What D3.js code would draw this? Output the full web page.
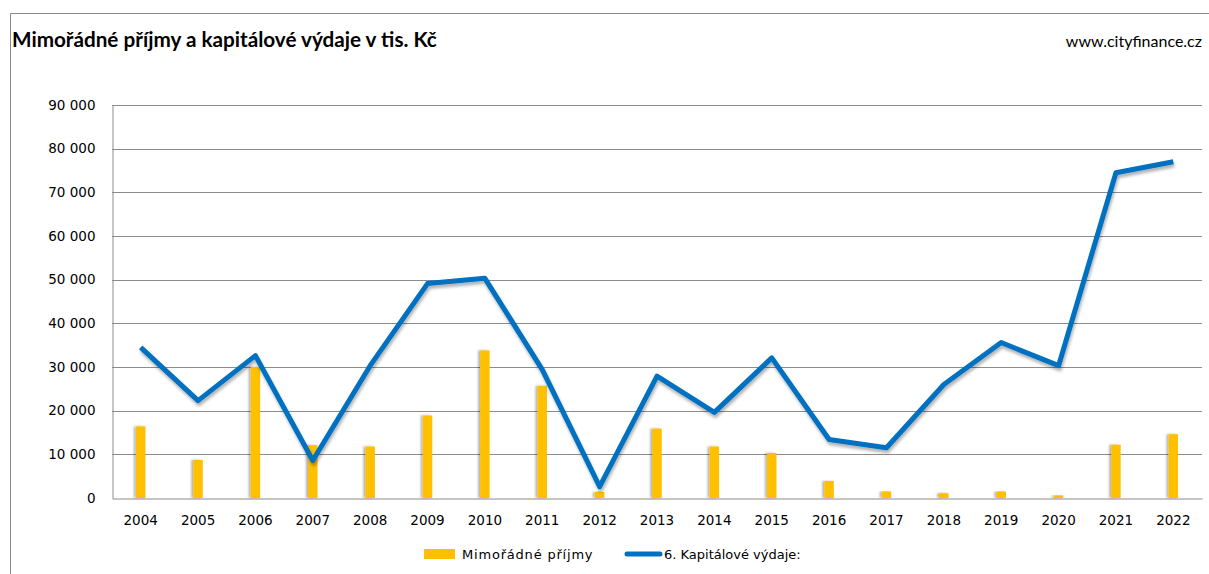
<!DOCTYPE html>
<html>
<head>
<meta charset="utf-8">
<title>Mimořádné příjmy a kapitálové výdaje</title>
<script src="https://cdn.jsdelivr.net/npm/d3@7"></script>
<style>
    body { margin: 0; background: #fff; }
    svg { display: block; }
</style>
</head>
<body>
<svg id="lienzo"></svg>
<script>
    // data (tis. Kč)
    const years = ["2004","2005","2006","2007","2008","2009","2010","2011","2012","2013",
                   "2014","2015","2016","2017","2018","2019","2020","2021","2022"];
    const mimoradnePrijmy = [16400, 8700, 30000, 12100, 11800, 18900, 33800, 25700, 1400, 15900,
                             11800, 10300, 3900, 1500, 1100, 1500, 600, 12200, 14600];
    const kapitaloveVydaje = [34500, 22300, 32600, 8600, 30300, 49100, 50300, 29400, 2600, 27900,
                              19600, 32100, 13400, 11500, 26000, 35600, 30300, 74500, 77000];
    const yTicks = [0, 10000, 20000, 30000, 40000, 50000, 60000, 70000, 80000, 90000];

    const width = 1209;
    const height = 574;
    const plotLeft = 112, plotRight = 1202, plotTop = 105, plotBottom = 498;

    const svg = d3.select("#lienzo")
        .attr("width", width)
        .attr("height", height);

    const defs = svg.append("defs");
    const lineShadow = defs.append("filter").attr("id", "lineShadow")
        .attr("x", "-5%").attr("y", "-10%").attr("width", "110%").attr("height", "130%");
    lineShadow.append("feDropShadow")
        .attr("dx", 1).attr("dy", 3).attr("stdDeviation", 1.6)
        .attr("flood-color", "#000").attr("flood-opacity", 0.3);
    const barShadow = defs.append("filter").attr("id", "barShadow")
        .attr("x", "-80%").attr("y", "-5%").attr("width", "200%").attr("height", "110%");
    barShadow.append("feDropShadow")
        .attr("dx", -2).attr("dy", 0).attr("stdDeviation", 1.3)
        .attr("flood-color", "#000").attr("flood-opacity", 0.3);

    // outer frame (left and top edges visible)
    svg.append("path")
        .attr("d", "M10.5," + height + "V13.5H" + width)
        .attr("fill", "none")
        .attr("stroke", "#8a8a8a")
        .attr("stroke-width", 1);

    svg.append("text")
        .attr("x", 12).attr("y", 47)
        .attr("font-family", "Lato, 'Open Sans', sans-serif")
        .attr("font-weight", "bold")
        .attr("font-size", 20.7)
        .attr("fill", "#000")
        .text("Mimořádné příjmy a kapitálové výdaje v tis. Kč");

    svg.append("text")
        .attr("x", 1202).attr("y", 47)
        .attr("text-anchor", "end")
        .attr("font-family", "Lato, 'Open Sans', sans-serif")
        .attr("font-size", 16)
        .attr("fill", "#000")
        .text("www.cityfinance.cz");

    const xScale = d3.scaleBand()
        .domain(years)
        .range([plotLeft, plotRight]);

    const yScale = d3.scaleLinear()
        .domain([0, 90000])
        .range([plotBottom, plotTop]);

    const fmt = v => d3.format(",")(v).replace(/,/g, " ");

    // gridlines
    svg.append("g")
        .selectAll("line")
        .data(yTicks.slice(1))
        .enter()
        .append("line")
        .attr("x1", plotLeft).attr("x2", plotRight)
        .attr("y1", d => Math.round(yScale(d)) + 0.5)
        .attr("y2", d => Math.round(yScale(d)) + 0.5)
        .attr("stroke", "#8c8c8c");

    // y axis
    const yAxis = svg.append("g")
        .attr("transform", "translate(" + (plotLeft + 0.5) + ",0)")
        .call(d3.axisLeft(yScale).tickValues(yTicks).tickSize(0).tickPadding(17).tickFormat(fmt));
    yAxis.select(".domain").attr("stroke", "#8c8c8c");
    yAxis.selectAll("text")
        .attr("font-family", "'DejaVu Sans', Verdana, sans-serif")
        .attr("font-size", 13.5)
        .attr("fill", "#000");

    // bars
    const barW = 9.5;
    svg.append("g")
        .selectAll("rect")
        .data(mimoradnePrijmy)
        .enter()
        .append("rect")
        .attr("x", (d, i) => xScale(years[i]) + xScale.bandwidth() / 2 - barW / 2)
        .attr("y", d => yScale(d))
        .attr("width", barW)
        .attr("height", d => yScale(0) - yScale(d))
        .attr("fill", "#FFC000")
        .attr("filter", "url(#barShadow)");

    // x axis
    const xAxis = svg.append("g")
        .attr("transform", "translate(0," + (plotBottom + 0.5) + ")")
        .call(d3.axisBottom(xScale).tickSize(0).tickPadding(17));
    xAxis.select(".domain").attr("stroke", "#8c8c8c");
    xAxis.selectAll("text")
        .attr("font-family", "'DejaVu Sans', Verdana, sans-serif")
        .attr("font-size", 13.5)
        .attr("fill", "#000");

    // line
    const line = d3.line()
        .x((d, i) => xScale(years[i]) + xScale.bandwidth() / 2)
        .y(d => yScale(d));

    svg.append("path")
        .datum(kapitaloveVydaje)
        .attr("d", line)
        .attr("fill", "none")
        .attr("stroke", "#0070C0")
        .attr("stroke-width", 5)
        .attr("stroke-linejoin", "round")
        .attr("filter", "url(#lineShadow)");

    // legend
    const legend = svg.append("g")
        .attr("font-family", "'DejaVu Sans', Verdana, sans-serif")
        .attr("font-size", 13)
        .attr("fill", "#000");

    legend.append("rect")
        .attr("x", 424).attr("y", 549)
        .attr("width", 31).attr("height", 10)
        .attr("fill", "#FFC000");
    legend.append("text")
        .attr("x", 462).attr("y", 558.5)
        .attr("letter-spacing", 0.8)
        .text("Mimořádné příjmy");

    legend.append("line")
        .attr("x1", 627).attr("x2", 660)
        .attr("y1", 554).attr("y2", 554)
        .attr("stroke", "#0070C0")
        .attr("stroke-width", 5)
        .attr("stroke-linecap", "round");
    legend.append("text")
        .attr("x", 664).attr("y", 558.5)
        .text("6. Kapitálové výdaje:");
</script>
</body>
</html>
